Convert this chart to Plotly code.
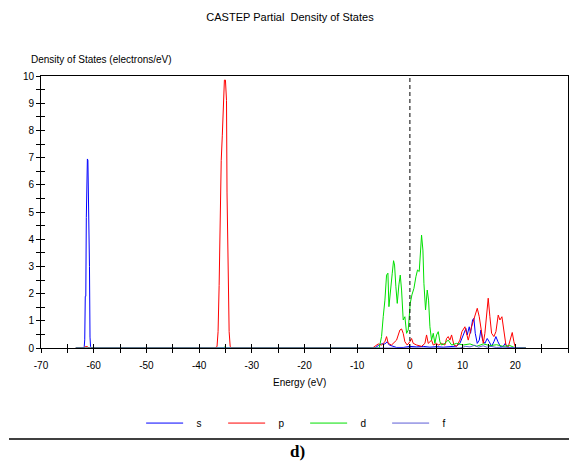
import plotly.graph_objects as go

# ---- data ----
s_energy = [-63.4, -62.2, -61.9, -61.8, -61.7, -61.6, -61.5, -61.4, -61.3, -61.2, -61.1, -61.0, -60.9,
            -60.8, -60.7, -60.6, -60.3,
            -6.64, -6.01, -5.38, -4.74, -4.30, -3.92, -3.16, -2.53, -1.27, 0.0, 1.27, 2.53, 3.80, 5.06,
            6.33, 7.59, 8.86, 9.49, 9.99, 10.31, 10.63, 10.88, 11.26, 11.51, 11.89, 12.14, 12.40, 12.78,
            13.16, 13.47, 13.79, 14.23, 14.67, 15.05, 15.50, 15.94, 16.32, 16.70, 17.21, 17.71, 18.09,
            18.47, 22.0]
s_dos = [0, 0, 0, 0.05, 0.3, 1.9, 1.9, 4.8, 6.9, 6.95, 6.9, 5.7, 5.7,
         3.0, 0.4, 0.05, 0,
         0, 0.09, 0.15, 0.15, 0.23, 0.11, 0.06, 0.02, 0.02, 0.06, 0.04, 0.06, 0.03, 0.05,
         0.03, 0.06, 0.07, 0.17, 0.42, 0.54, 0.72, 0.48, 0.78, 0.54, 1.03, 1.09, 0.54, 0.17,
         0.29, 0.66, 0.29, 0.17, 0.35, 0.23, 0.06, 0.23, 0.42, 0.23, 0.04, 0.06, 0.17,
         0.02, 0]

p_energy = [-63.4, -61.9, -61.6, -61.2, -60.9, -37.0, -36.6, -36.4, -36.2, -36.0, -35.8, -35.6, -35.4,
            -35.2, -35.0, -34.8, -34.7, -34.5, -34.3, -34.1, -33.8,
            -7.08, -6.01, -5.38, -4.74, -4.43, -4.11, -3.48, -2.53, -1.90, -1.58, -1.27, -0.95, -0.51,
            0.0, 0.32, 0.63, 1.27, 2.21, 2.85, 3.16, 3.48, 4.11, 4.43, 5.06, 5.38, 6.01, 6.64, 6.96,
            7.27, 7.59, 7.91, 8.35, 8.86, 9.49, 9.87, 10.44, 10.75, 11.07, 11.70, 12.33, 12.78, 13.16,
            13.60, 13.92, 14.23, 14.55, 14.86, 15.18, 15.50, 15.94, 16.32, 16.76, 17.08, 17.46, 17.84,
            18.22, 18.66, 19.10, 19.42, 19.73, 20.05, 22.0]
p_dos = [0, 0, 0.05, 0.05, 0, 0, 0.05, 0.6, 2.3, 5.7, 6.9, 7.8, 9.0,
         9.85, 9.85, 9.1, 5.7, 2.3, 0.6, 0.05, 0,
         0, 0.15, 0.11, 0.23, 0.42, 0.17, 0.11, 0.29, 0.66, 0.70, 0.54, 0.23, 0.11,
         0.23, 0.35, 0.17, 0.11, 0.06, 0.17, 0.48, 0.17, 0.29, 0.11, 0.17, 0.11, 0.17, 0.11, 0.35,
         0.42, 0.29, 0.48, 0.11, 0.06, 0.29, 0.60, 0.78, 0.54, 0.29, 0.78, 1.21, 1.46, 1.15,
         0.54, 0.17, 0.54, 1.34, 1.83, 1.15, 0.54, 0.42, 0.60, 1.21, 1.03, 1.15, 0.66,
         0.11, 0.04, 0.35, 0.57, 0.23, 0, 0]

d_energy = [-63.4, -35.4, -35.1, -34.8, -5.82, -5.38, -5.06, -4.74, -4.43, -4.17, -3.98, -3.67, -3.35,
            -3.10, -2.91, -2.66, -2.40, -2.09, -1.83, -1.58, -1.27, -0.95, -0.63, -0.32, 0.06, 0.38,
            0.76, 1.14, 1.45, 1.77, 2.02, 2.21, 2.47, 2.66, 2.97, 3.29, 3.54, 3.80, 4.11, 4.43, 4.74,
            5.06, 5.38, 5.69, 6.01, 6.64, 7.27, 7.91, 8.86, 10.12, 11.39, 12.65, 13.92, 15.18, 16.45,
            17.71, 18.98, 19.92, 22.0]
d_dos = [0, 0, 0.04, 0, 0, 0.42, 1.15, 1.76, 2.68, 2.75, 1.52, 2.25, 2.75,
         3.21, 3.05, 2.25, 1.64, 2.32, 2.68, 2.13, 1.03, 1.15, 0.54, 0.66, 1.64, 1.95,
         2.19, 2.62, 2.87, 2.81, 3.54, 4.15, 3.60, 2.38, 1.40, 2.13, 1.76, 0.78, 0.29, 0.54, 0.17,
         0.48, 0.60, 0.23, 0.11, 0.17, 0.29, 0.11, 0.17, 0.11, 0.15, 0.06, 0.15, 0.09, 0.12,
         0.06, 0.09, 0.01, 0]

f_energy = [-63.4, 9.5, 10.6, 11.4, 12.3, 13.0, 13.9, 14.6, 15.4, 16.4, 17.5, 22.0]
f_dos = [0, 0, 0.06, 0.04, 0.1, 0.03, 0.08, 0.03, 0.06, 0.02, 0.03, 0]

x_tick_vals = [-70, -60, -50, -40, -30, -20, -10, 0, 10, 20, 30]
x_tick_text = ["-70", "-60", "-50", "-40", "-30", "-20", "-10", "0", "10", "20", "30"]

series = [("s", s_energy, s_dos, "#0000ff"),
          ("p", p_energy, p_dos, "#ff0000"),
          ("d", d_energy, d_dos, "#00e000"),
          ("f", f_energy, f_dos, "#5c5cd6")]

FONT = "Liberation Sans"

fig = go.Figure()
for name, e, v, c in series:
    fig.add_trace(go.Scatter(x=e, y=v, mode="lines", name="&nbsp;&nbsp;&nbsp;" + name,
                             line=dict(color=c, width=1)))

# dummy trace for the inside-tick overlay axes
fig.add_trace(go.Scatter(x=[None], y=[None], xaxis="x2", yaxis="y2",
                         showlegend=False, hoverinfo="skip"))

axis_common = dict(showgrid=False, zeroline=False, linecolor="black", linewidth=1,
                   tickcolor="black", ticklen=4, tickwidth=1,
                   tickfont=dict(family=FONT, size=10, color="black"))

fig.update_layout(
    width=569, height=462,
    margin=dict(l=41, r=1, t=76, b=114),
    paper_bgcolor="white", plot_bgcolor="white",
    font=dict(family=FONT, size=10, color="black"),
    xaxis=dict(range=[-70, 30], tickvals=x_tick_vals, ticktext=x_tick_text,
               ticks="outside", showline=True, mirror=True, ticklabelstandoff=4,
               minor=dict(dtick=5, tick0=-70, ticks="outside", ticklen=4, tickcolor="black"),
               **axis_common),
    yaxis=dict(range=[0, 10], dtick=1, tick0=0, ticks="outside", showline=True, mirror=True,
               minor=dict(dtick=0.5, ticks="outside", ticklen=4, tickcolor="black"),
               **axis_common),
    xaxis2=dict(range=[-70, 30], dtick=10, tick0=-70, ticks="inside", overlaying="x",
                showticklabels=False, showline=False, anchor="y2",
                minor=dict(dtick=5, ticks="inside", ticklen=4, tickcolor="black"),
                showgrid=False, zeroline=False, ticklen=4, tickcolor="black"),
    yaxis2=dict(range=[0, 10], dtick=1, tick0=0, ticks="inside", overlaying="y",
                showticklabels=False, showline=False, anchor="x2",
                minor=dict(dtick=0.5, ticks="inside", ticklen=4, tickcolor="black"),
                showgrid=False, zeroline=False, ticklen=4, tickcolor="black"),
    title=dict(text="CASTEP Partial&nbsp; Density of States", x=0.4725, xref="paper",
               xanchor="center", y=1 - 17 / 462, yref="container", yanchor="middle",
               font=dict(family=FONT, size=11, color="black")),
    showlegend=True,
    legend=dict(orientation="h", x=0.19, xanchor="left", y=-0.276, yanchor="middle",
                font=dict(family=FONT, size=10, color="black"), itemwidth=37,
                entrywidth=30, entrywidthmode="pixels", bgcolor="rgba(0,0,0,0)"),
)

# Fermi level dashed line
fig.add_shape(type="line", xref="x", yref="y", x0=0, x1=0, y0=0, y1=10,
              line=dict(color="black", width=1, dash="4px,3px"))

# bottom separator line
fig.add_shape(type="line", xref="paper", yref="paper", x0=-0.0607, x1=1.002,
              y0=-0.3346, y1=-0.3346, line=dict(color="black", width=1.5))

fig.add_annotation(text="Density of States (electrons/eV)", xref="paper", yref="paper",
                   x=-0.0228, y=1.0625, xanchor="left", yanchor="middle", showarrow=False,
                   font=dict(family=FONT, size=10, color="black"))
fig.add_annotation(text="Energy (eV)", xref="paper", yref="paper",
                   x=0.4896, y=-0.127, xanchor="center", yanchor="middle", showarrow=False,
                   font=dict(family=FONT, size=10, color="black"))
fig.add_annotation(text="<b>d)</b>", xref="paper", yref="paper",
                   x=0.486, y=-0.382, xanchor="center", yanchor="middle", showarrow=False,
                   font=dict(family="Liberation Serif", size=17, color="black"))

fig.write_html("out.html")
